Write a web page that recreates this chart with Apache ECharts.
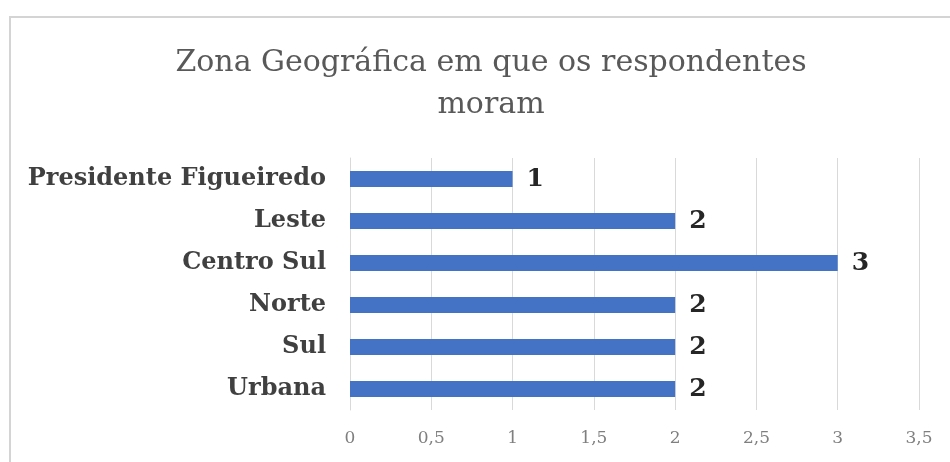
<!DOCTYPE html>
<html>
<head>
<meta charset="utf-8">
<script src="https://cdn.jsdelivr.net/npm/echarts@6/dist/echarts.min.js"></script>
<style>
  html, body { margin: 0; padding: 0; background: #fff; }
  #chart { width: 950px; height: 462px; }
</style>
</head>
<body>
<div id="chart"></div>
<script>
// Zones, top to bottom as listed in the chart
const zones = ['Presidente Figueiredo', 'Leste', 'Centro Sul', 'Norte', 'Sul', 'Urbana'];
const respondents = [1, 2, 3, 2, 2, 2];
const axisMax = 3.5;
const axisStep = 0.5;

const chart = echarts.init(document.getElementById('chart'));
const serif = '"DejaVu Serif", "Liberation Serif", serif';

chart.setOption({
  animation: false,
  backgroundColor: '#ffffff',
  graphic: [{
    type: 'rect',
    shape: { x: 10, y: 17, width: 980, height: 480 },
    style: { fill: 'none', stroke: '#d4d4d4', lineWidth: 2 },
    silent: true
  }],
  title: {
    text: 'Zona Geográfica em que os respondentes\nmoram',
    left: 486,
    top: 37,
    textAlign: 'center',
    textStyle: {
      fontFamily: serif,
      fontWeight: 'normal',
      fontSize: 30,
      color: '#595959',
      lineHeight: 42
    }
  },
  grid: { left: 350, right: 31, top: 158, bottom: 52, containLabel: false },
  xAxis: {
    type: 'value',
    min: 0,
    max: axisMax,
    interval: axisStep,
    axisLine: { show: false },
    axisTick: { show: false },
    splitLine: { lineStyle: { color: '#d9d9d9', width: 1 } },
    axisLabel: {
      margin: 20,
      fontFamily: serif,
      fontSize: 17,
      color: '#7f7f7f',
      formatter: v => String(v).replace('.', ',')
    }
  },
  yAxis: {
    type: 'category',
    inverse: true,
    data: zones,
    axisLine: { show: true, lineStyle: { color: '#d9d9d9', width: 1 } },
    axisTick: { show: false },
    axisLabel: {
      margin: 24,
      fontFamily: serif,
      fontWeight: 'bold',
      fontSize: 24,
      color: '#404040'
    }
  },
  series: [{
    type: 'bar',
    data: respondents,
    barWidth: 16,
    itemStyle: { color: '#4472c4' },
    label: {
      show: true,
      position: 'right',
      distance: 14,
      fontFamily: serif,
      fontWeight: 'bold',
      fontSize: 25,
      color: '#262626'
    }
  }]
});
</script>
</body>
</html>
